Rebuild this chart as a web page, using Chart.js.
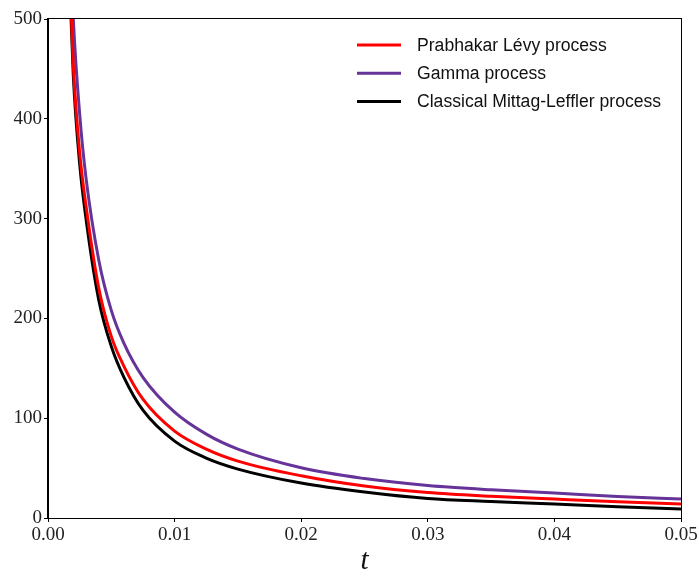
<!DOCTYPE html>
<html>
<head>
<meta charset="utf-8">
<script src="https://cdn.jsdelivr.net/npm/chart.js@4"></script>
<style>
  body { margin: 0; background: #fff; }
  #wrap { width: 698px; height: 572px; }
</style>
</head>
<body>
<div id="wrap"><canvas id="myChart" width="698" height="572"></canvas></div>
<script>
// values
const tValues = [0.0015, 0.002, 0.0025, 0.003, 0.004, 0.005, 0.006, 0.0075, 0.01, 0.0125, 0.015, 0.02, 0.025, 0.03, 0.035, 0.04, 0.045, 0.05];
const prabhakar = [618, 453, 366, 313, 231, 182, 152, 119, 87, 69, 57, 42.3, 32, 25.5, 21.8, 19, 16.3, 14];
const gamma = [667, 500, 405, 341, 259, 208, 175, 141, 106, 84, 69, 50.3, 39.5, 32.5, 28.2, 25, 21.6, 19];
const mittag = [607, 443, 355, 300, 219, 172, 141, 108, 77, 60, 49, 35, 26, 19.5, 16.5, 14, 11.3, 9];
const seriesNames = ["Prabhakar Lévy process", "Gamma process", "Classical Mittag-Leffler process"];
const xTicks = [0, 0.01, 0.02, 0.03, 0.04, 0.05];
const yTicks = [0, 100, 200, 300, 400, 500];

function pts(vals) {
  return tValues.map(function (t, i) { return { x: t, y: vals[i] }; });
}

function makeSet(label, vals, color) {
  return {
    label: label,
    data: pts(vals),
    borderColor: color,
    backgroundColor: color,
    borderWidth: 3,
    pointRadius: 0,
    cubicInterpolationMode: "monotone",
    clip: 0,
  };
}

// frame on all four sides + legend inside the plot
const framePlugin = {
  id: "frame",
  afterDraw(chart) {
    const ctx = chart.ctx;
    const a = chart.chartArea;
    ctx.save();
    ctx.strokeStyle = "#000";
    ctx.lineWidth = 1;
    ctx.strokeRect(a.left - 0.5, a.top - 0.5, a.right - a.left + 1, a.bottom - a.top + 1);

    ctx.font = "17.6px 'Liberation Sans'";
    ctx.textBaseline = "middle";
    ctx.textAlign = "left";
    let y = 45;
    chart.data.datasets.forEach(function (ds) {
      ctx.strokeStyle = ds.borderColor;
      ctx.lineWidth = 3;
      ctx.beginPath();
      ctx.moveTo(357, y);
      ctx.lineTo(401, y);
      ctx.stroke();
      ctx.fillStyle = "#111";
      ctx.fillText(ds.label, 417, y + 1);
      y += 28.3;
    });
    ctx.restore();
  },
};

const ctx1 = document.getElementById("myChart").getContext("2d");
const myChart = new Chart(ctx1, {
  type: "line",
  data: {
    datasets: [
      makeSet(seriesNames[0], prabhakar, "#ff0000"),
      makeSet(seriesNames[1], gamma, "#663399"),
      makeSet(seriesNames[2], mittag, "#000000"),
    ],
  },
  options: {
    responsive: false,
    animation: false,
    layout: { padding: { top: 19, right: 17, left: 0, bottom: 0 } },
    plugins: {
      legend: { display: false },
      tooltip: { enabled: false },
    },
    scales: {
      x: {
        type: "linear",
        min: 0,
        max: 0.05,
        afterFit(scale) {
          scale.height = 54;
          scale.paddingRight = 0;
          scale.paddingLeft = 0;
        },
        afterBuildTicks(scale) { scale.ticks = xTicks.map(function (v) { return { value: v }; }); },
        ticks: {
          font: { family: "Liberation Serif", size: 19 },
          color: "#222",
          padding: 2,
          maxRotation: 0,
          callback: function (v) { return v.toFixed(2); },
        },
        grid: { drawOnChartArea: false, tickLength: 4, color: "#000", tickWidth: 1 },
        border: { color: "#000" },
        title: {
          display: true,
          text: "t",
          color: "#111",
          font: { family: "Liberation Serif", style: "italic", size: 29, lineHeight: 0.7 },
          padding: { top: 0, bottom: 0 },
        },
      },
      y: {
        min: 0,
        max: 500,
        afterFit(scale) { scale.width = 48; },
        afterBuildTicks(scale) { scale.ticks = yTicks.map(function (v) { return { value: v }; }); },
        ticks: {
          font: { family: "Liberation Serif", size: 19 },
          color: "#222",
          padding: 2,
        },
        grid: { drawOnChartArea: false, tickLength: 4, color: "#000", tickWidth: 1 },
        border: { color: "#000" },
      },
    },
  },
  plugins: [framePlugin],
});
</script>
</body>
</html>
